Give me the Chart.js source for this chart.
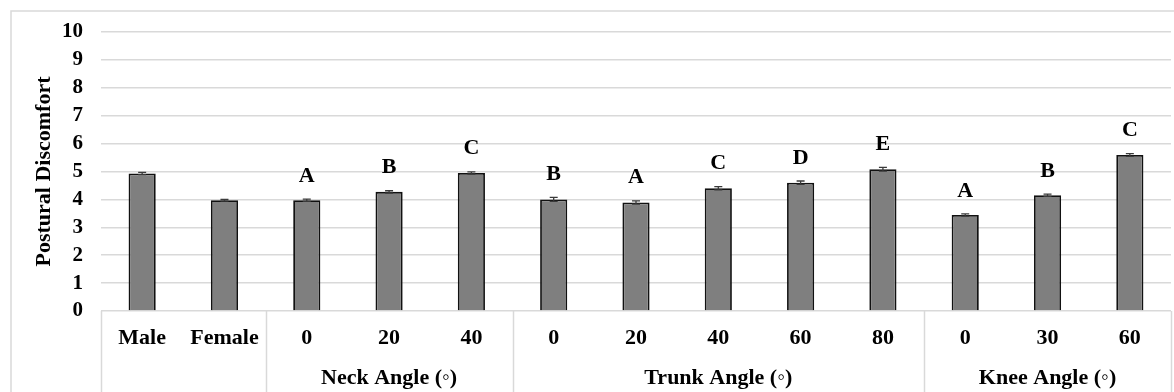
<!DOCTYPE html>
<html>
<head>
<meta charset="utf-8">
<script src="https://cdn.jsdelivr.net/npm/chart.js@4.4.1/dist/chart.umd.min.js"></script>
<style>
  html, body { margin: 0; padding: 0; background: #ffffff; }
  #wrap { width: 1174px; height: 392px; }
</style>
</head>
<body>
<div id="wrap"><canvas id="c" width="1174" height="392"></canvas></div>
<script>
// Mean postural discomfort per condition, with standard errors
const categories = ['Male', 'Female', '0', '20', '40', '0', '20', '40', '60', '80', '0', '30', '60'];
const means      = [4.93, 3.97, 3.97, 4.27, 4.95, 4.00, 3.89, 4.40, 4.60, 5.08, 3.44, 4.15, 5.59];
const errors     = [0.04, 0.03, 0.04, 0.04, 0.04, 0.07, 0.06, 0.06, 0.06, 0.07, 0.04, 0.04, 0.05];
const letters    = ['', '', 'A', 'B', 'C', 'B', 'A', 'C', 'D', 'E', 'A', 'B', 'C'];
const groupNames = ['', 'Neck Angle (◦)', 'Trunk Angle (◦)', 'Knee Angle (◦)'];
const groupStart = [0, 2, 5, 10];
const groupEnd   = [1, 4, 9, 12];
const yTicks     = [0, 1, 2, 3, 4, 5, 6, 7, 8, 9, 10];

const FONT = '"Liberation Serif", "Times New Roman", serif';
const GRID = '#d9d9d9';

// Outer frame, category table, error bars and significance letters
const decorations = {
  id: 'decorations',
  beforeDraw(chart) {
    const ctx = chart.ctx;
    ctx.save();
    ctx.strokeStyle = GRID;
    ctx.lineWidth = 1.5;
    ctx.beginPath();
    ctx.moveTo(11, chart.height + 2);
    ctx.lineTo(11, 11);
    ctx.lineTo(chart.width + 2, 11);
    ctx.stroke();
    ctx.restore();
  },
  afterDatasetsDraw(chart) {
    const ctx = chart.ctx;
    const x = chart.scales.x;
    const y = chart.scales.y;
    const n = categories.length;
    const edge = (i) => {
      if (i <= 0) return x.left;
      if (i >= n) return x.right;
      return (x.getPixelForValue(i - 1) + x.getPixelForValue(i)) / 2;
    };
    ctx.save();
    // table lines under the axis
    ctx.strokeStyle = GRID;
    ctx.lineWidth = 1.5;
    const tableTop = y.getPixelForValue(0);
    const bounds = [0].concat(groupEnd.map(e => e + 1));
    ctx.beginPath();
    bounds.forEach(b => {
      const px = Math.round(edge(b)) + 0.5;
      ctx.moveTo(px, tableTop);
      ctx.lineTo(px, chart.height + 2);
    });
    ctx.stroke();

    // group titles
    ctx.fillStyle = '#000';
    ctx.font = 'bold 22px ' + FONT;
    ctx.textAlign = 'center';
    ctx.textBaseline = 'middle';
    groupNames.forEach((g, k) => {
      if (!g) return;
      const cx = (edge(groupStart[k]) + edge(groupEnd[k] + 1)) / 2;
      ctx.fillText(g, cx, tableTop + 67);
    });

    // error bars
    ctx.strokeStyle = '#3a3a3a';
    ctx.lineWidth = 1.3;
    means.forEach((m, i) => {
      const px = x.getPixelForValue(i);
      const yt = y.getPixelForValue(m + errors[i]);
      const yb = y.getPixelForValue(m - errors[i]);
      ctx.beginPath();
      ctx.moveTo(px, yt); ctx.lineTo(px, yb);
      ctx.moveTo(px - 4, yt); ctx.lineTo(px + 4, yt);
      ctx.moveTo(px - 4, yb); ctx.lineTo(px + 4, yb);
      ctx.stroke();
    });

    // significance letters
    ctx.fillStyle = '#000';
    ctx.font = 'bold 22px ' + FONT;
    letters.forEach((l, i) => {
      if (!l) return;
      const px = x.getPixelForValue(i);
      const py = y.getPixelForValue(means[i] + errors[i]) - 23;
      ctx.fillText(l, px, py);
    });
    ctx.restore();
  }
};

new Chart(document.getElementById('c'), {
  type: 'bar',
  data: {
    labels: categories,
    datasets: [{
      data: means,
      backgroundColor: '#7f7f7f',
      borderColor: '#111111',
      borderWidth: 1.8,
      barPercentage: 0.33,
      categoryPercentage: 1.0
    }]
  },
  options: {
    responsive: false,
    animation: false,
    events: [],
    layout: { padding: { top: 32, right: 3, left: 0, bottom: 0 } },
    plugins: { legend: { display: false }, tooltip: { enabled: false } },
    scales: {
      x: {
        grid: { display: false },
        border: { display: false },
        ticks: {
          color: '#000',
          font: { family: FONT, size: 22, weight: 'bold' },
          padding: 6,
          maxRotation: 0,
          autoSkip: false
        },
        afterFit(scale) { scale.height = 81; }
      },
      y: {
        min: 0,
        max: 10,
        afterBuildTicks(scale) { scale.ticks = yTicks.map(v => ({ value: v })); },
        grid: { color: GRID, lineWidth: 1.5, drawTicks: false },
        border: { display: false },
        ticks: {
          color: '#000',
          font: { family: FONT, size: 21, weight: 'bold' },
          padding: 18,
          autoSkip: false
        },
        title: {
          display: true,
          text: 'Postural Discomfort',
          color: '#000',
          font: { family: FONT, size: 22, weight: 'bold' },
          padding: { top: 31, bottom: 0 }
        },
        afterFit(scale) { scale.width = 101; }
      }
    }
  },
  plugins: [decorations]
});
</script>
</body>
</html>
